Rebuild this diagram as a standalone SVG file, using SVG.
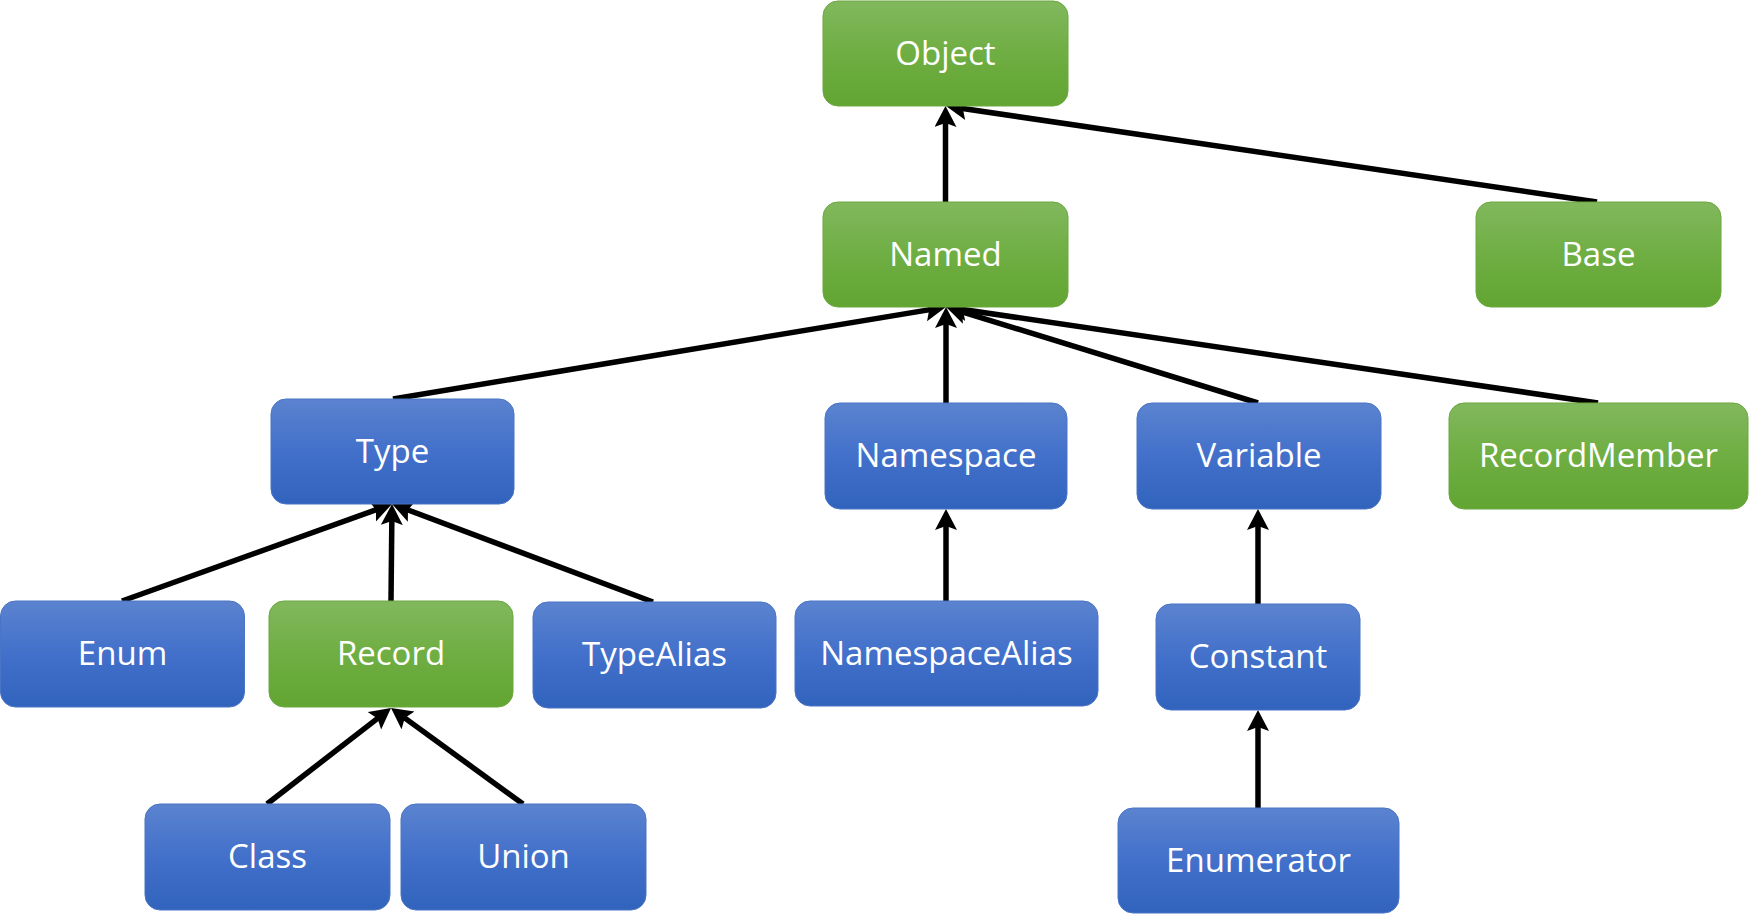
<svg xmlns="http://www.w3.org/2000/svg" width="1749" height="914" viewBox="0 0 1749 914">
<style>
.g rect{fill:url(#gg);stroke:#6aa83e;stroke-width:1}
.b rect{fill:url(#bg);stroke:#4a74c6;stroke-width:1}
text{font-family:"Open Sans","Noto Sans","Liberation Sans",sans-serif;font-size:33px;fill:#fff;text-anchor:middle}
#connectors line{stroke:#000;stroke-width:5.5;marker-end:url(#ah)}
</style>
<defs>
<linearGradient id="gg" x1="0" y1="0" x2="0" y2="1">
<stop offset="0" stop-color="#81b85d"/><stop offset="0.5" stop-color="#6fae43"/><stop offset="1" stop-color="#62a532"/>
</linearGradient>
<linearGradient id="bg" x1="0" y1="0" x2="0" y2="1">
<stop offset="0" stop-color="#5b83cf"/><stop offset="0.5" stop-color="#4270ca"/><stop offset="1" stop-color="#3163bd"/>
</linearGradient>
<marker id="ah" markerUnits="userSpaceOnUse" markerWidth="24" markerHeight="24" viewBox="0 0 24 24" refX="11" refY="11" orient="auto">
<path d="M0,0 L21,11 L0,22 L4,11 z" fill="#000"/>
</marker>
</defs>
<rect width="1749" height="914" fill="#fff"/>
<g id="connectors">
<line x1="945.5" y1="202" x2="945.5" y2="116"/>
<line x1="1597" y1="202" x2="955.9" y2="107.5"/>
<line x1="393" y1="399" x2="936.1" y2="308.6"/>
<line x1="946" y1="403" x2="946" y2="317"/>
<line x1="1258" y1="403" x2="955.6" y2="309.9"/>
<line x1="1598" y1="403" x2="955.9" y2="308.5"/>
<line x1="122" y1="601" x2="382.6" y2="507.4"/>
<line x1="391" y1="601" x2="391.9" y2="514"/>
<line x1="653" y1="602" x2="401.4" y2="507.5"/>
<line x1="267" y1="804" x2="383.1" y2="714.1"/>
<line x1="523" y1="804" x2="399.1" y2="713.9"/>
<line x1="946" y1="601" x2="946" y2="519"/>
<line x1="1258" y1="604" x2="1258" y2="519"/>
<line x1="1258" y1="808" x2="1258" y2="720"/>
</g>
<g id="Object" class="g"><rect x="823" y="1" width="245" height="105" rx="15"/><text x="945.5" y="65">Object</text></g>
<g id="Named" class="g"><rect x="823" y="202" width="245" height="105" rx="15"/><text x="945.5" y="266">Named</text></g>
<g id="Base" class="g"><rect x="1476" y="202" width="245" height="105" rx="15"/><text x="1598.5" y="266">Base</text></g>
<g id="Type" class="b"><rect x="271" y="399" width="243" height="105" rx="15"/><text x="392.5" y="463">Type</text></g>
<g id="Namespace" class="b"><rect x="825" y="403" width="242" height="106" rx="15"/><text x="946" y="467">Namespace</text></g>
<g id="Variable" class="b"><rect x="1137" y="403" width="244" height="106" rx="15"/><text x="1259" y="467">Variable</text></g>
<g id="RecordMember" class="g"><rect x="1449" y="403" width="299" height="106" rx="15"/><text x="1598.5" y="467">RecordMember</text></g>
<g id="Enum" class="b"><rect x="0.5" y="601" width="244" height="106" rx="15"/><text x="122.5" y="665">Enum</text></g>
<g id="Record" class="g"><rect x="269" y="601" width="244" height="106" rx="15"/><text x="391" y="665">Record</text></g>
<g id="TypeAlias" class="b"><rect x="533" y="602" width="243" height="106" rx="15"/><text x="654.5" y="666">TypeAlias</text></g>
<g id="NamespaceAlias" class="b"><rect x="795" y="601" width="303" height="105" rx="15"/><text x="946.5" y="665">NamespaceAlias</text></g>
<g id="Constant" class="b"><rect x="1156" y="604" width="204" height="106" rx="15"/><text x="1258" y="668">Constant</text></g>
<g id="Class" class="b"><rect x="145" y="804" width="245" height="106" rx="15"/><text x="267.5" y="868">Class</text></g>
<g id="Union" class="b"><rect x="401" y="804" width="245" height="106" rx="15"/><text x="523.5" y="868">Union</text></g>
<g id="Enumerator" class="b"><rect x="1118" y="808" width="281" height="105" rx="15"/><text x="1258.5" y="872">Enumerator</text></g>
</svg>
